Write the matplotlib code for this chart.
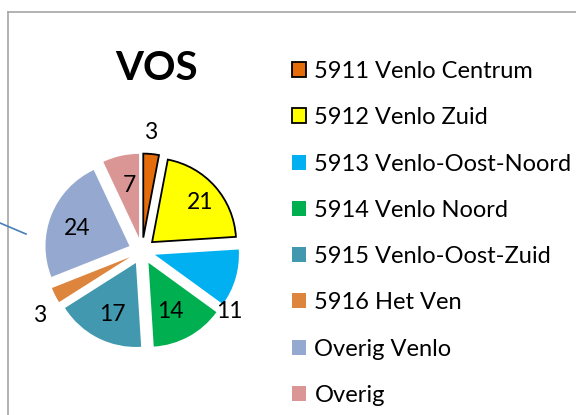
import matplotlib
matplotlib.use("Agg")
import matplotlib.pyplot as plt
import numpy as np
from matplotlib.lines import Line2D

plt.rcParams['font.family'] = ['Lato', 'DejaVu Sans']

categories = ["5911 Venlo Centrum", "5912 Venlo Zuid", "5913 Venlo-Oost-Noord",
              "5914 Venlo Noord", "5915 Venlo-Oost-Zuid", "5916 Het Ven",
              "Overig Venlo", "Overig"]
values = [3, 21, 11, 14, 17, 3, 24, 7]
colors = ["#E46C0A", "#FFFF00", "#00B0F0", "#00B050", "#4299AF", "#DD853C",
          "#95A9D0", "#D99694"]
title = "VOS"

# label placement style: radial distance and angular nudge (degrees)
label_dist = [1.41, 0.90, 1.26, 0.80, 0.83, 1.44, 0.82, 0.80]
label_nudge = [1.4, -1.8, -18.4, -3.8, 2.0, 5.5, 2.1, -1.6]

W, H = 576, 415
fig = plt.figure(figsize=(W / 100, H / 100), dpi=100)

R = 84.0
cx, cy = 142, 415 - 251
lim = 1.7
side = 2 * lim * R
ax = fig.add_axes([(cx - side / 2) / W, (cy - side / 2) / H, side / W, side / H])
wedges, _ = ax.pie(values, colors=colors, startangle=90, counterclock=False,
                   explode=[0.16] * len(values), radius=1.0)
for i, w in enumerate(wedges):
    if i < 2:
        w.set_edgecolor("black")
        w.set_linewidth(1.3)
    else:
        w.set_edgecolor("none")
    mid = np.deg2rad((w.theta1 + w.theta2) / 2 + label_nudge[i])
    ax.text(label_dist[i] * np.cos(mid), label_dist[i] * np.sin(mid), str(values[i]),
            ha="center", va="center", fontsize=16.5, color="black")
ax.set_xlim(-lim, lim)
ax.set_ylim(-lim, lim)
ax.set_aspect("equal")
ax.axis("off")

fig.text(157 / W, 1 - 68 / H, title, ha="center", va="center", fontsize=29,
         fontweight="bold")

leg = fig.legend(wedges, categories, loc="upper left",
                 bbox_to_anchor=(292 / W, 1 - 61 / H), frameon=False,
                 fontsize=17, handlelength=0.6, handleheight=0.6,
                 handletextpad=0.35, labelspacing=1.07, borderpad=0,
                 borderaxespad=0)

# chart border and connector line
fig.add_artist(Line2D([8 / W, 8 / W], [0, 1 - 12 / H], color="#A6A6A6", lw=1.2,
                      transform=fig.transFigure))
fig.add_artist(Line2D([8 / W, 1], [1 - 12 / H, 1 - 12 / H], color="#A6A6A6", lw=1.2,
                      transform=fig.transFigure))
fig.add_artist(Line2D([0, 26 / W], [1 - 223 / H, 1 - 234 / H], color="#4A7EBB", lw=1.2,
                      transform=fig.transFigure))

fig.savefig("out.png", dpi=100)
